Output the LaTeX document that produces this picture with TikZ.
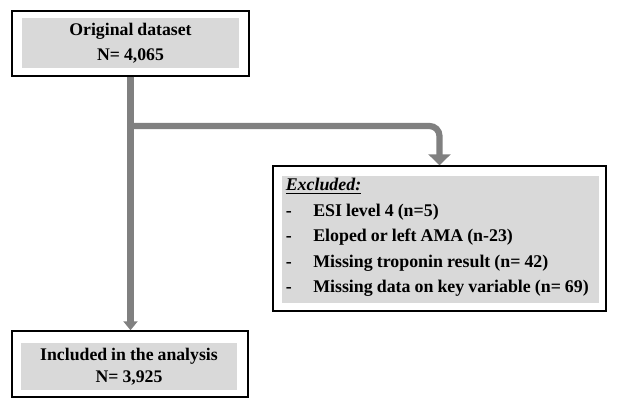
\documentclass[tikz,border=0pt]{standalone}
\usepackage{fontspec}
\setmainfont[WordSpace=0.9]{Liberation Serif}
\usetikzlibrary{arrows.meta,positioning}
\definecolor{boxgray}{RGB}{217,217,217}
\definecolor{flowgray}{RGB}{128,128,128}
\newdimen\pxu \pxu=0.75pt
\newcommand{\exitem}[1]{\makebox[27.5\pxu][l]{-}#1}

\begin{document}
\begin{tikzpicture}[x=0.75pt, y=-0.75pt,
    outerbox/.style={draw, line width=1.1pt, fill=white, inner sep=0pt},
    shade/.style={fill=boxgray, inner sep=0pt, align=center, font=\bfseries},
    flow/.style={draw=flowgray, line width=4.7pt},
    smalltip/.style={-{Triangle[width=10.5pt, length=6.75pt]}},
    bigtip/.style={-{Triangle[width=16.5pt, length=8.25pt]}}
]
\useasboundingbox (0,0) rectangle (618,406);

% boxes
\node[outerbox, minimum width=237\pxu, minimum height=65\pxu] (orig) at (130.5,43.5) {};
\node[shade, minimum width=217\pxu, minimum height=50\pxu,
      font=\fontsize{13.3}{18.75}\selectfont\bfseries] (origtxt) at (130.5,43)
      {Original dataset\\N= 4,065};

\node[outerbox, minimum width=236\pxu, minimum height=66\pxu] (incl) at (130,364) {};
\node[shade, minimum width=216\pxu, minimum height=47\pxu,
      font=\fontsize{13.3}{16.5}\selectfont\bfseries] (incltxt) at (129,366.5)
      {Included in the analysis\\N= 3,925};

\node[outerbox, minimum width=333\pxu, minimum height=145\pxu] (excl) at (439.5,238.5) {};
\node[shade, minimum width=317\pxu, minimum height=127\pxu] (exclfill) at (440.5,239.5) {};
\node[anchor=north west, inner sep=0pt, align=left,
      font=\fontsize{13.4}{19.1}\selectfont\bfseries] (excltxt) at (285.5,178)
      {\underline{\textit{Excluded:}}\\
       \exitem{ESI level 4 (n=5)}\\
       \exitem{Eloped or left AMA (n-23)}\\
       \exitem{Missing troponin result (n= 42)}\\
       \exitem{Missing data on key variable (n= 69)}};

% connectors
\coordinate (split) at (130.5,126);
\draw[flow, smalltip] (orig.south) -- (orig.south |- incl.north);
\draw[flow, bigtip, rounded corners=7.5pt] (split) -| (excl.north);
\end{tikzpicture}
\end{document}
